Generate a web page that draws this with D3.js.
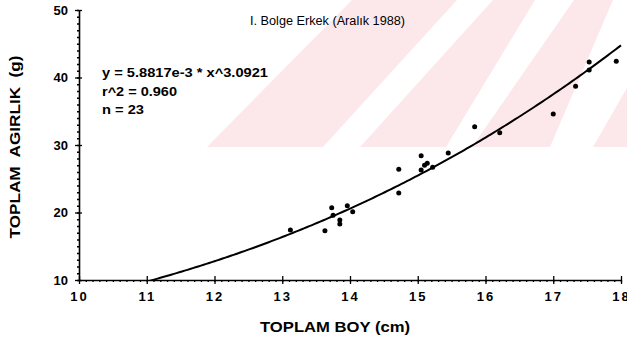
<!DOCTYPE html>
<html>
<head>
<meta charset="utf-8">
<script src="https://cdnjs.cloudflare.com/ajax/libs/d3/7.8.5/d3.min.js"></script>
<style>
  body { margin: 0; background: #fff; }
  svg { display: block; }
  text { font-family: "Liberation Sans", Arial, sans-serif; fill: #000; }
</style>
</head>
<body>
<svg width="627" height="341"></svg>
<script>
// measured lengths (cm) and weights (g)
const boy = [13.12, 13.63, 13.73, 13.75, 13.85, 13.85, 13.96, 14.04, 14.72, 14.72,
             15.05, 15.05, 15.10, 15.14, 15.22, 15.45, 15.84, 16.21, 17.00, 17.33,
             17.53, 17.53, 17.93];
const agirlik = [17.4, 17.3, 20.7, 19.6, 18.9, 18.3, 21.0, 20.1, 26.4, 22.9,
                 28.4, 26.3, 27.0, 27.3, 26.7, 28.8, 32.7, 31.8, 34.6, 38.7,
                 42.3, 41.1, 42.4];
const xTicks = [10, 11, 12, 13, 14, 15, 16, 17, 18];
const yTicks = [10, 20, 30, 40, 50];
const fitA = 5.8817e-3, fitB = 3.0921;
const statLines = ["y = 5.8817e-3 * x^3.0921", "r^2 = 0.960", "n = 23"];

const svg = d3.select("svg");

const x = d3.scaleLinear().domain([10, 18]).range([79, 621]);
const y = d3.scaleLinear().domain([10, 50]).range([280, 10]);

// faint pink diagonal watermark in the upper right
const wm = svg.append("g").attr("fill", "#fce8eb");
const bands = [
  [[352, 0], [457, 0], [323, 147], [207, 147]],
  [[493, 0], [535, 0], [446, 147], [360, 147]],
  [[574, 0], [613, 0], [550, 147], [472, 147]],
  [[627, 88], [627, 147], [593, 147]]
];
wm.selectAll("polygon").data(bands).enter().append("polygon")
  .attr("points", d => d.map(p => p.join(",")).join(" "));

// axes
const minorX = d3.range(10, 18.001, 0.1).map(v => +v.toFixed(1));
const minorY = d3.range(10, 50.001, 1);

svg.append("g").attr("transform", `translate(0,${y(10)})`)
  .call(d3.axisBottom(x).tickValues(minorX).tickSize(2).tickFormat(""))
  .call(g => g.select(".domain").remove());
svg.append("g").attr("transform", `translate(${x(10)},0)`)
  .call(d3.axisLeft(y).tickValues(minorY).tickSize(2).tickFormat(""))
  .call(g => g.select(".domain").remove());

const xAxis = svg.append("g").attr("transform", `translate(0,${y(10)})`)
  .call(d3.axisBottom(x).tickValues(xTicks).tickSizeInner(4).tickSizeOuter(0).tickPadding(8)
    .tickFormat(d => d));
xAxis.selectAll(".tick line").attr("y1", -4);
xAxis.selectAll(".tick text")
  .attr("font-size", 13).attr("font-weight", "bold").attr("letter-spacing", "2px")
  .attr("font-family", "Liberation Sans, Arial, sans-serif");

const yAxis = svg.append("g").attr("transform", `translate(${x(10)},0)`)
  .call(d3.axisLeft(y).tickValues(yTicks).tickSizeInner(4).tickSizeOuter(0).tickPadding(7));
yAxis.selectAll(".tick line").attr("x1", 3);
yAxis.selectAll(".tick text")
  .attr("font-size", 13).attr("font-weight", "bold")
  .attr("font-family", "Liberation Sans, Arial, sans-serif");

svg.selectAll(".domain").attr("stroke-width", 1.6);
svg.selectAll(".tick line").attr("stroke-width", 1.3);

// fitted power curve
svg.append("clipPath").attr("id", "plot")
  .append("rect").attr("x", x(10)).attr("y", 0).attr("width", x(18) - x(10) + 2).attr("height", y(10));
const curveX = d3.range(0, 176).map(i => 11 + i * 0.04);
svg.append("path")
  .datum(curveX)
  .attr("clip-path", "url(#plot)")
  .attr("fill", "none").attr("stroke", "#000").attr("stroke-width", 2)
  .attr("d", d3.line().x(d => x(d)).y(d => y(fitA * Math.pow(d, fitB))));

// data points
svg.append("g").selectAll("circle").data(boy).enter().append("circle")
  .attr("cx", d => x(d))
  .attr("cy", (d, i) => y(agirlik[i]))
  .attr("r", 2.5).attr("fill", "#000");

// title and stats
svg.append("text").attr("x", 250).attr("y", 25)
  .attr("font-size", 12).attr("textLength", 155).attr("lengthAdjust", "spacingAndGlyphs")
  .text("I. Bolge Erkek (Aralık 1988)");

const statWidths = [166, 75, 42];
svg.append("g").selectAll("text").data(statLines).enter().append("text")
  .attr("x", 102).attr("y", (d, i) => 77 + i * 18.5)
  .attr("font-size", 13).attr("font-weight", "bold")
  .attr("textLength", (d, i) => statWidths[i]).attr("lengthAdjust", "spacingAndGlyphs")
  .text(d => d);

// axis titles
svg.append("text").attr("x", 335).attr("y", 332)
  .attr("text-anchor", "middle").attr("font-size", 14).attr("font-weight", "bold")
  .attr("textLength", 150).attr("lengthAdjust", "spacingAndGlyphs")
  .text("TOPLAM BOY (cm)");

svg.append("text")
  .attr("transform", "translate(20,147) rotate(-90)")
  .attr("text-anchor", "middle").attr("font-size", 14).attr("font-weight", "bold")
  .attr("textLength", 183).attr("lengthAdjust", "spacingAndGlyphs").style("white-space", "pre")
  .text("TOPLAM  AGIRLIK  (g)");
</script>
</body>
</html>
